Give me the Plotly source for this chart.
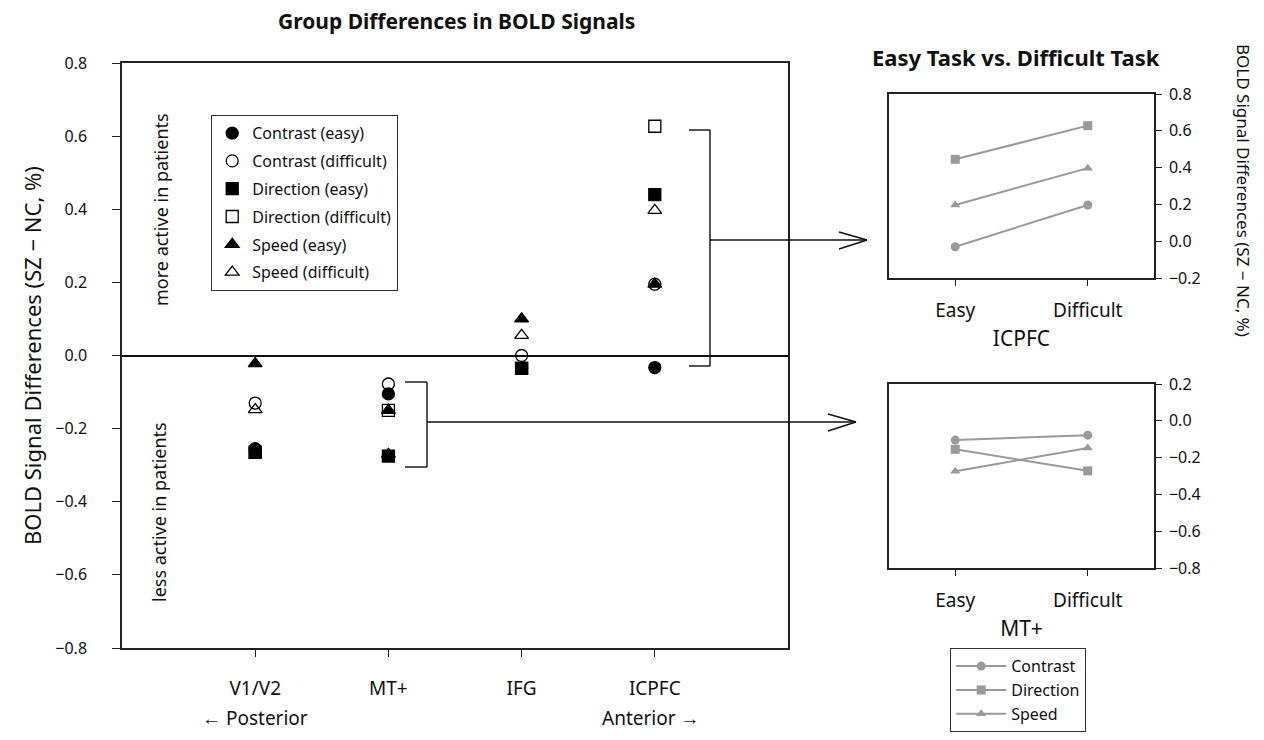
import plotly.graph_objects as go

# ---------------- data ----------------
regions = ["V1/V2", "MT+", "IFG", "ICPFC"]
contrast_easy = [-0.255, -0.105, -0.035, -0.033]
contrast_difficult = [-0.13, -0.078, 0.0, 0.195]
direction_easy = [-0.265, -0.275, -0.035, 0.44]
direction_difficult = [-0.265, -0.15, -0.035, 0.627]
speed_easy = [-0.022, -0.15, 0.10, 0.195]
speed_difficult = [-0.148, -0.27, 0.055, 0.397]

tasks = ["Easy", "Difficult"]
icpfc_contrast = [-0.03, 0.197]
icpfc_direction = [0.445, 0.628]
icpfc_speed = [0.197, 0.397]
mt_contrast = [-0.105, -0.078]
mt_direction = [-0.155, -0.272]
mt_speed = [-0.274, -0.148]

# page body has an 8px margin; figure is sized to fit inside the 1264x740 window
OFF = 8
W, H = 1264 - 2 * OFF, 740 - 2 * OFF
FONT = "Noto Sans"


def px(x):
    return (x - OFF) / W


def py(y):
    return 1 - (y - OFF) / H


fig = go.Figure()

main_series = [
    ("Contrast (easy)", contrast_easy, "circle"),
    ("Contrast (difficult)", contrast_difficult, "circle-open"),
    ("Direction (easy)", direction_easy, "square"),
    ("Direction (difficult)", direction_difficult, "square-open"),
    ("Speed (easy)", speed_easy, "triangle-up"),
    ("Speed (difficult)", speed_difficult, "triangle-up-open"),
]
for i, (name, vals, sym) in enumerate(main_series):
    fig.add_trace(go.Scatter(
        x=regions, y=vals, mode="markers", name=name,
        legendgroup=f"g{i}",
        marker=dict(symbol=sym, size=12, color="black", line=dict(color="black", width=1.3)),
        xaxis="x", yaxis="y", legend="legend",
    ))

side_series = [
    ("Contrast", icpfc_contrast, mt_contrast, "circle"),
    ("Direction", icpfc_direction, mt_direction, "square"),
    ("Speed", icpfc_speed, mt_speed, "triangle-up"),
]
GRAY = "#9a9a9a"
for name, top_vals, bot_vals, sym in side_series:
    fig.add_trace(go.Scatter(
        x=tasks, y=top_vals, mode="lines+markers", name=name,
        line=dict(color=GRAY, width=2), marker=dict(symbol=sym, size=9, color=GRAY),
        xaxis="x2", yaxis="y2", legend="legend2", showlegend=True,
    ))
    fig.add_trace(go.Scatter(
        x=tasks, y=bot_vals, mode="lines+markers", name=name,
        line=dict(color=GRAY, width=2), marker=dict(symbol=sym, size=9, color=GRAY),
        xaxis="x3", yaxis="y3", legend="legend2", showlegend=False,
    ))

axis_line = dict(showline=True, linecolor="#222", linewidth=1.5, mirror=True,
                 showgrid=False, zeroline=False, ticks="outside", tickcolor="#222",
                 tickwidth=1.2, automargin=False)

fig.update_layout(
    width=W, height=H,
    margin=dict(l=0, r=0, t=0, b=0),
    paper_bgcolor="white", plot_bgcolor="white",
    font=dict(family=FONT, size=15, color="#111"),
    xaxis=dict(**axis_line, domain=[px(122), px(788)], anchor="y",
               type="category", categoryorder="array", categoryarray=regions,
               range=[-1, 4], ticklen=7, ticklabelstandoff=15,
               tickfont=dict(size=19)),
    yaxis=dict(**{**axis_line, "zeroline": True}, domain=[py(648), py(63)], anchor="x",
               range=[-0.8, 0.8], dtick=0.2, tickformat=".1f", ticklen=8,
               zerolinecolor="#111", zerolinewidth=1.5,
               ticklabelstandoff=22, tickfont=dict(size=16)),
    xaxis2=dict(**axis_line, domain=[px(889), px(1154)], anchor="y2",
                type="category", categoryorder="array", categoryarray=tasks,
                range=[-0.5, 1.5], ticklen=6, ticklabelstandoff=8,
                tickfont=dict(size=19),
                title=dict(text="ICPFC", font=dict(size=21), standoff=10)),
    yaxis2=dict(**axis_line, domain=[py(278), py(94)], anchor="x2", side="right",
                range=[-0.2, 0.8], dtick=0.2, tickformat=".1f", ticklen=6,
                ticklabelstandoff=4, tickfont=dict(size=16)),
    xaxis3=dict(**axis_line, domain=[px(889), px(1154)], anchor="y3",
                type="category", categoryorder="array", categoryarray=tasks,
                range=[-0.5, 1.5], ticklen=6, ticklabelstandoff=8,
                tickfont=dict(size=19),
                title=dict(text="MT+", font=dict(size=21), standoff=10)),
    yaxis3=dict(**axis_line, domain=[py(568), py(384)], anchor="x3", side="right",
                range=[-0.8, 0.2], dtick=0.2, tickformat=".1f", ticklen=6,
                ticklabelstandoff=4, tickfont=dict(size=16)),
    legend=dict(x=px(211), y=py(115), xanchor="left", yanchor="top",
                bordercolor="#333", borderwidth=1.2, bgcolor="white",
                font=dict(size=16), tracegroupgap=4, itemclick=False),
    legend2=dict(x=px(950), y=0.0, xanchor="left", yanchor="bottom",
                 bordercolor="#333", borderwidth=1.2, bgcolor="white",
                 font=dict(size=16), tracegroupgap=0, itemwidth=50,
                 entrywidth=150, entrywidthmode="pixels"),
    showlegend=True,
)

annotations = [
    dict(text="<b>Group Differences in BOLD Signals</b>", x=px(456), y=py(21),
         font=dict(size=21)),
    dict(text="<b>Easy Task vs. Difficult Task</b>", x=px(1016), y=py(57),
         font=dict(size=22)),
    dict(text="BOLD Signal Differences (SZ \u2212 NC, %)", x=px(32), y=py(356),
         textangle=-90, font=dict(size=22)),
    dict(text="BOLD Signal Differences (SZ \u2212 NC, %)", x=px(1244), y=py(190),
         textangle=90, font=dict(size=17)),
    dict(text="more active in patients", x=px(161), y=py(210), textangle=-90,
         font=dict(size=18)),
    dict(text="less active in patients", x=px(159), y=py(512), textangle=-90,
         font=dict(size=18)),
    dict(text="\u2190 Posterior", x=px(255), y=py(718), font=dict(size=19)),
    dict(text="Anterior \u2192", x=px(651), y=py(718), font=dict(size=19)),
]
for a in annotations:
    a.update(xref="paper", yref="paper", showarrow=False, xanchor="center", yanchor="middle")
fig.update_layout(annotations=annotations)

# brackets and arrows (pixel-positioned guides)
segments = [
    # ICPFC bracket
    (689, 130, 710, 130), (710, 130, 710, 366), (689, 366, 710, 366),
    (710, 240, 867, 240), (839, 232, 867, 240), (839, 249, 867, 240),
    # MT+ bracket
    (405, 382, 427, 382), (427, 382, 427, 467), (405, 467, 427, 467),
    (427, 422, 856, 422), (828, 414, 856, 422), (828, 431, 856, 422),
]
fig.update_layout(shapes=[
    dict(type="line", xref="paper", yref="paper", x0=px(a), y0=py(b), x1=px(c), y1=py(d),
         line=dict(color="#111", width=1.4))
    for a, b, c, d in segments
])

fig.write_html("out.html")
